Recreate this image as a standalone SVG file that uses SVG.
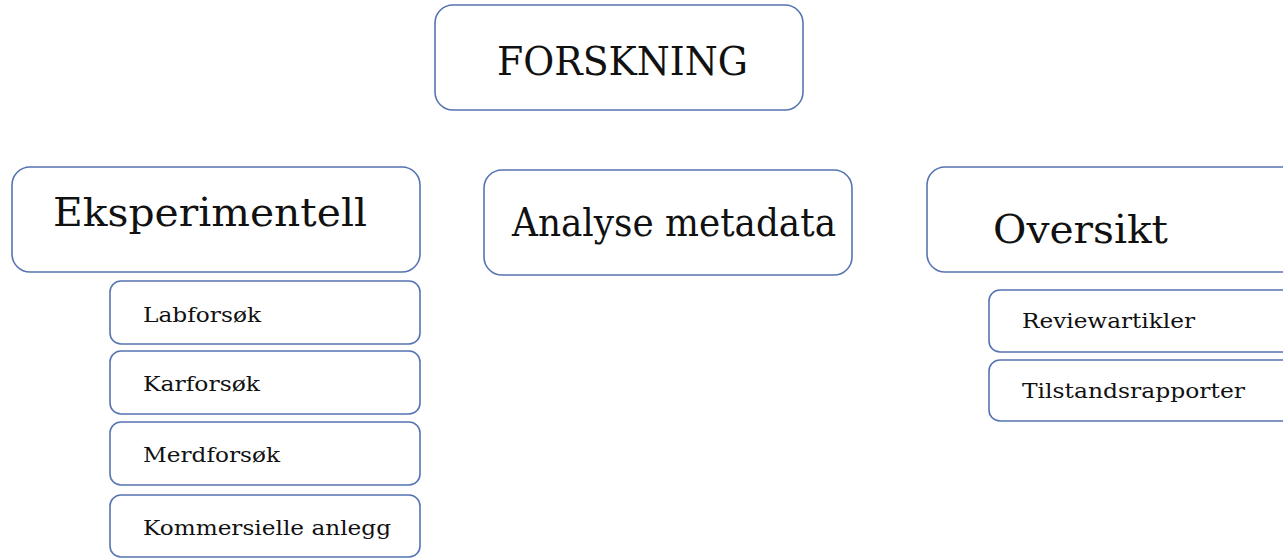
<svg xmlns="http://www.w3.org/2000/svg" width="1283" height="558" viewBox="0 0 1283 558">
<style>
.box{fill:#ffffff;stroke:#5674b2;stroke-width:1.6}
.t{font-family:"DejaVu Serif","Liberation Serif",serif;fill:#111111}
.big{font-size:40px}
.sm{font-size:20px}
</style>
<rect width="1283" height="558" fill="#ffffff"/>
<g id="connectors"></g>
<g id="forskning"><rect class="box" x="435" y="5" width="368" height="105" rx="18"/><text class="t big" x="497" y="75" textLength="251" lengthAdjust="spacingAndGlyphs">FORSKNING</text></g>
<g id="eksperimentell"><rect class="box" x="12" y="167" width="408" height="105" rx="18"/><text class="t big" x="53" y="226" textLength="314" lengthAdjust="spacingAndGlyphs">Eksperimentell</text></g>
<g id="analyse"><rect class="box" x="484" y="170" width="368" height="105" rx="18"/><text class="t big" x="512" y="236" textLength="324" lengthAdjust="spacingAndGlyphs">Analyse metadata</text></g>
<g id="oversikt"><rect class="box" x="927" y="167" width="376" height="105" rx="18"/><text class="t big" x="993" y="243" textLength="175" lengthAdjust="spacingAndGlyphs">Oversikt</text></g>
<g id="labforsok"><rect class="box" x="110" y="281" width="310" height="63" rx="11"/><text class="t sm" x="143" y="322" textLength="118" lengthAdjust="spacingAndGlyphs">Labforsøk</text></g>
<g id="karforsok"><rect class="box" x="110" y="351" width="310" height="63" rx="11"/><text class="t sm" x="143" y="391" textLength="117" lengthAdjust="spacingAndGlyphs">Karforsøk</text></g>
<g id="merdforsok"><rect class="box" x="110" y="422" width="310" height="63" rx="11"/><text class="t sm" x="143" y="462" textLength="137" lengthAdjust="spacingAndGlyphs">Merdforsøk</text></g>
<g id="kommersielle"><rect class="box" x="110" y="495" width="310" height="62" rx="11"/><text class="t sm" x="143" y="535" textLength="248" lengthAdjust="spacingAndGlyphs">Kommersielle anlegg</text></g>
<g id="reviewartikler"><rect class="box" x="989" y="290" width="314" height="62" rx="11"/><text class="t sm" x="1022" y="328" textLength="173" lengthAdjust="spacingAndGlyphs">Reviewartikler</text></g>
<g id="tilstandsrapporter"><rect class="box" x="989" y="360" width="314" height="61" rx="11"/><text class="t sm" x="1022" y="398" textLength="223" lengthAdjust="spacingAndGlyphs">Tilstandsrapporter</text></g>
</svg>
